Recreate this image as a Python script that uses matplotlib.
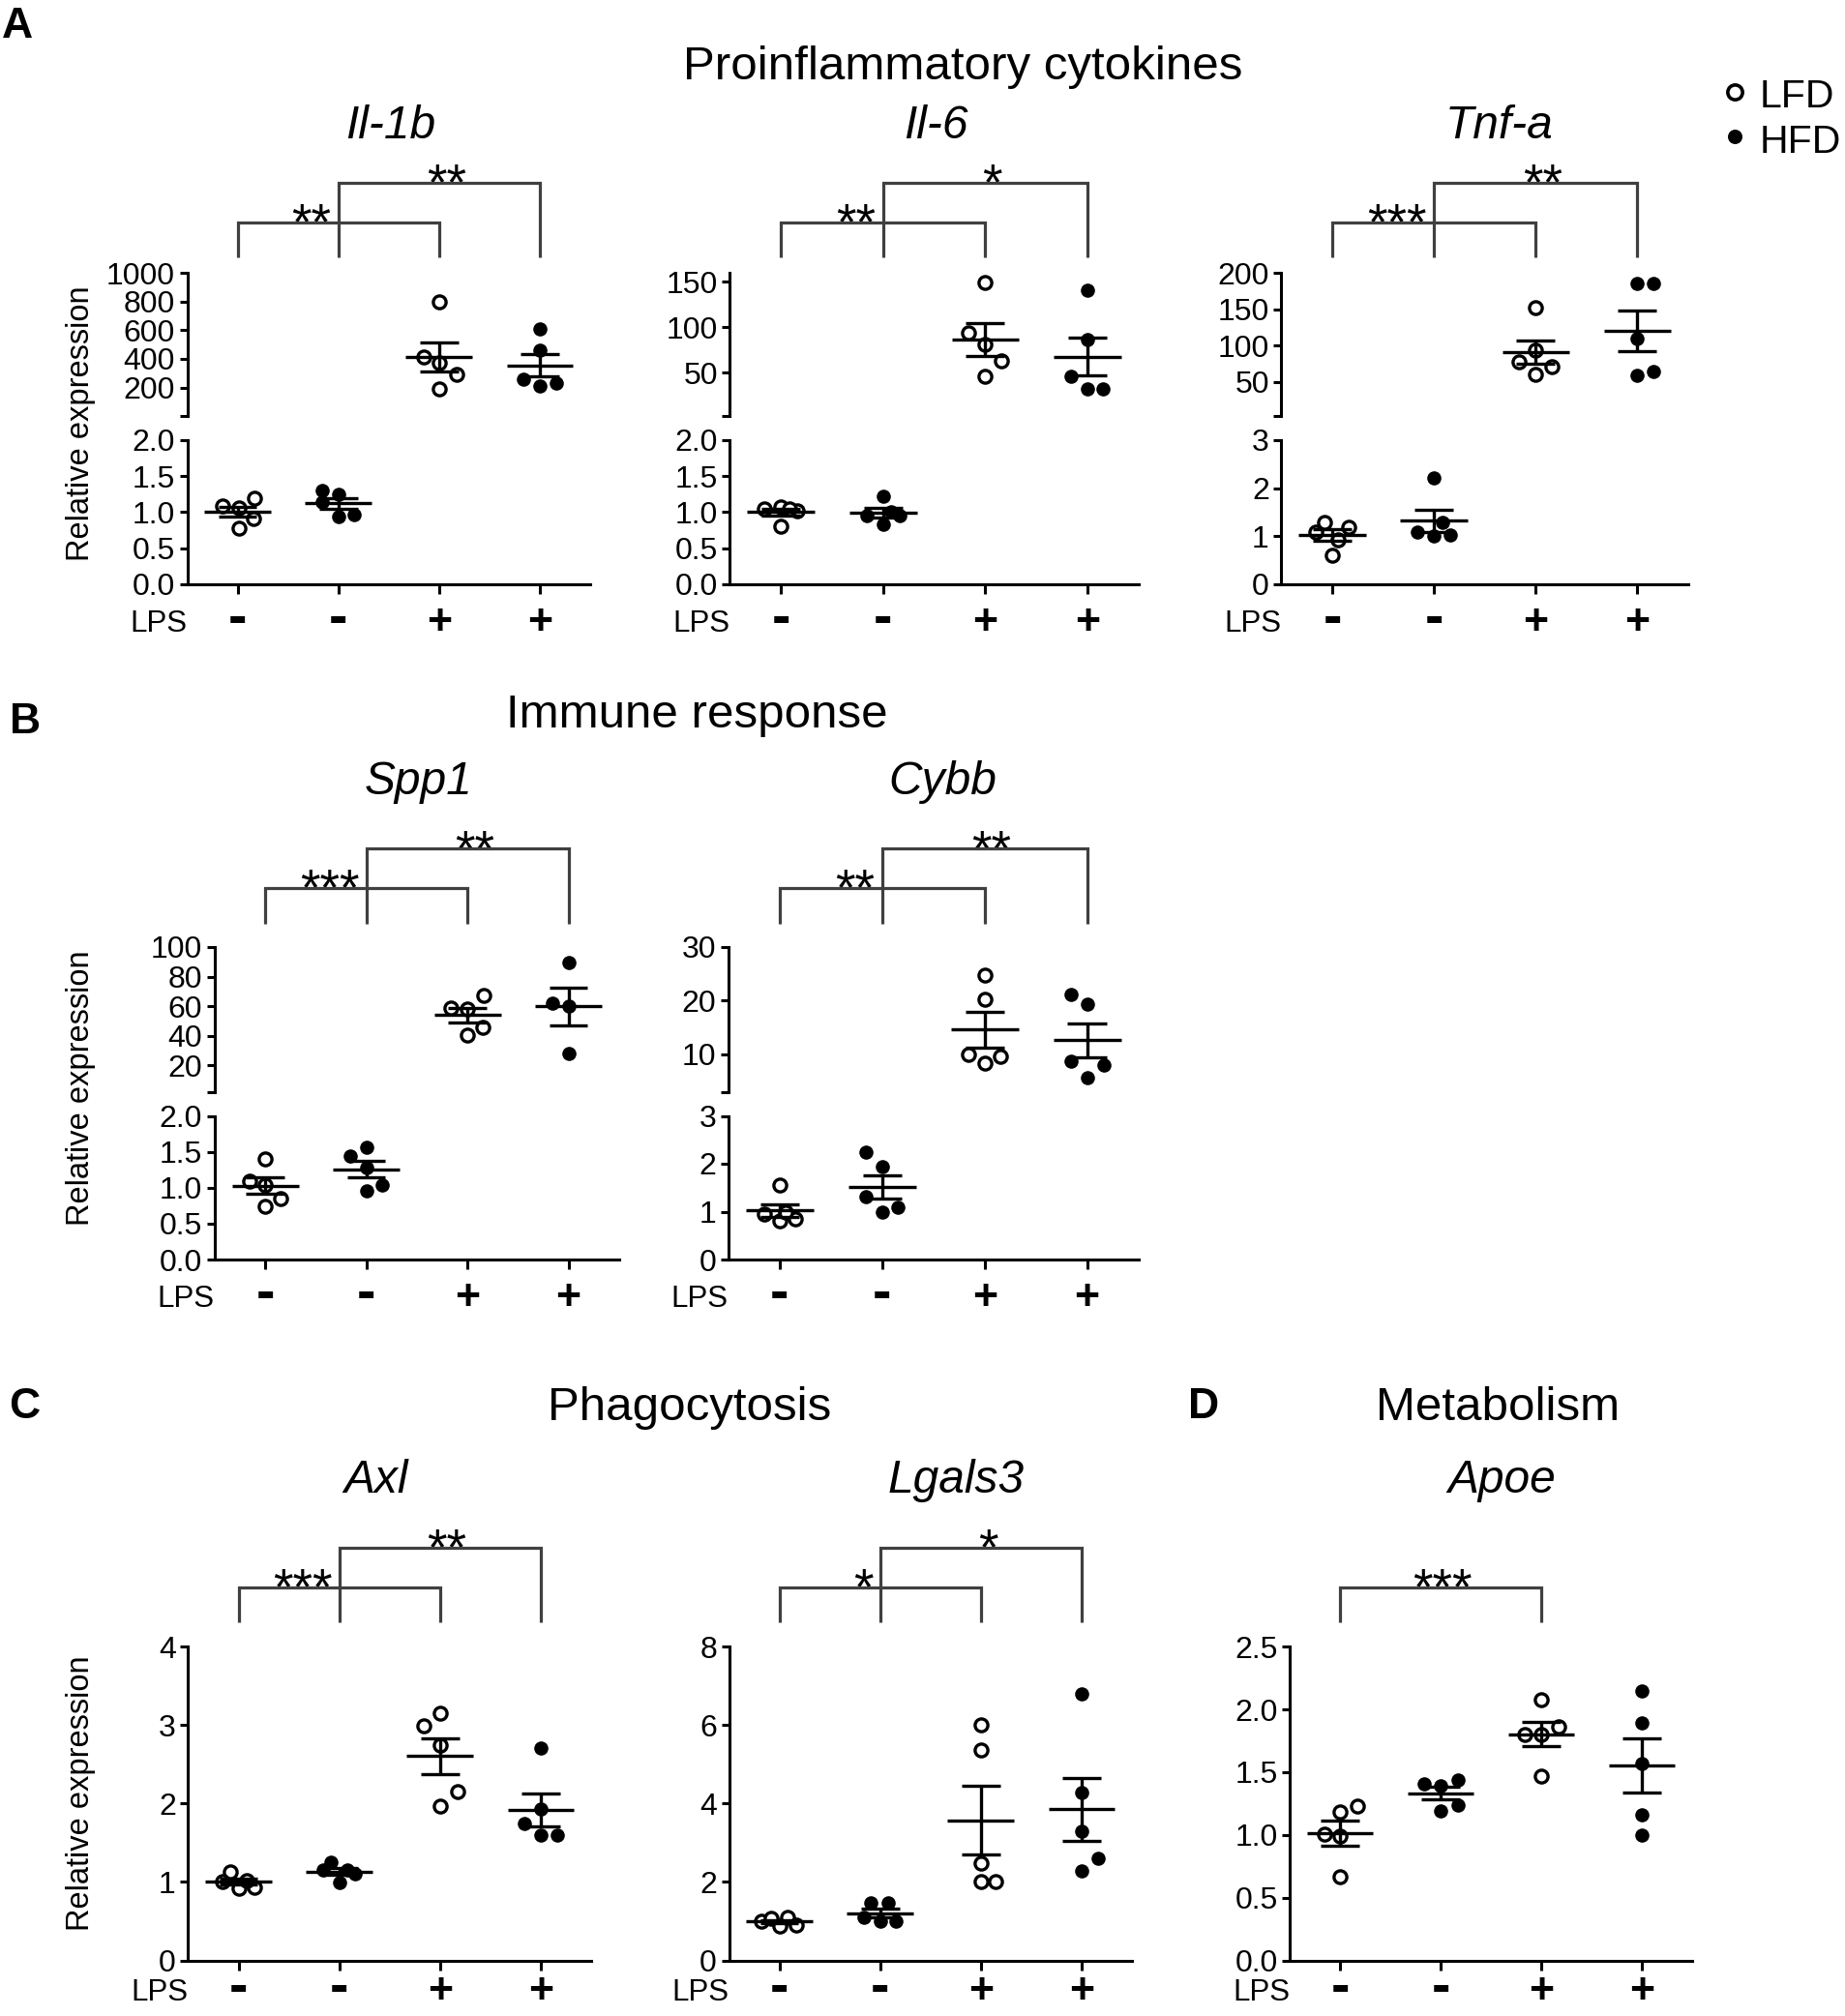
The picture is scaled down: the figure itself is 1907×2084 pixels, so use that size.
import matplotlib
matplotlib.use('Agg')
import matplotlib.pyplot as plt
import numpy as np
from matplotlib.lines import Line2D
from matplotlib import transforms

plt.rcParams['font.family'] = ['Liberation Sans', 'DejaVu Sans']

# ---------------- data ----------------
groups = ['LFD LPS-', 'HFD LPS-', 'LFD LPS+', 'HFD LPS+']
lps_labels = ['-', '-', '+', '+']
diet = ['LFD', 'HFD', 'LFD', 'HFD']

il1b_values = [[1.09, 1.06, 1.19, 0.915, 0.77], [1.30, 1.25, 0.944, 0.968, 1.14],
               [795, 411, 374, 294, 189], [607, 463, 260, 208, 231]]
il1b_jitter = [[-0.15, 0.01, 0.17, 0.16, 0.01], [-0.16, 0, 0, 0.16, -0.16],
               [0, -0.15, 0, 0.17, 0], [0, 0, -0.16, 0, 0.16]]

il6_values = [[1.05, 1.07, 1.02, 1.05, 0.80], [1.22, 0.955, 0.955, 1.01, 0.83],
              [149, 93.6, 81, 62.7, 45.5], [141, 86.4, 45.5, 32, 32]]
il6_jitter = [[-0.16, 0, 0.16, 0.08, 0], [0, -0.16, 0.16, 0.08, 0],
              [0, -0.16, 0, 0.16, 0], [0, 0, -0.16, 0, 0.15]]

tnfa_values = [[1.28, 1.09, 1.18, 0.93, 0.59], [2.21, 1.08, 1.01, 1.02, 1.28],
               [152.5, 93.6, 78, 70.5, 59.6], [185, 186, 110, 58.5, 64]]
tnfa_jitter = [[-0.08, -0.16, 0.16, 0.06, 0], [0, -0.16, 0, 0.16, 0.08],
               [0, 0, -0.16, 0.16, 0], [0, 0.16, 0, 0, 0.16]]

spp1_values = [[1.407, 1.087, 1.04, 0.855, 0.738], [1.564, 1.436, 1.273, 0.959, 1.04],
               [58.5, 57.9, 66.9, 40.5, 45.3], [89.3, 62.1, 60.1, 27.6]]
spp1_jitter = [[0, -0.15, 0, 0.15, 0], [0, -0.16, 0, 0, 0.16],
               [-0.16, 0, 0.16, 0, 0.15], [0, -0.16, 0, 0]]

cybb_values = [[1.55, 0.94, 0.81, 0.85, 0.98], [2.25, 1.93, 1.316, 0.98, 1.088],
               [24.7, 20.2, 10.0, 8.4, 9.6], [21.2, 19.4, 8.7, 8.0, 5.7]]
cybb_jitter = [[0, -0.15, 0, 0.15, 0.06], [-0.16, 0, -0.16, 0, 0.15],
               [0, 0, -0.16, 0, 0.15], [-0.16, 0, -0.16, 0.16, 0]]

axl_values = [[1.13, 1.01, 0.92, 0.93, 1.02], [1.256, 1.148, 0.997, 1.105, 1.148],
              [3.154, 2.99, 2.75, 2.156, 1.968], [2.71, 1.925, 1.74, 1.60, 1.60]]
axl_jitter = [[-0.08, -0.16, 0, 0.16, 0.08], [-0.08, -0.16, 0, 0.16, 0.08],
              [0, -0.16, 0, 0.17, 0], [0, 0, -0.16, 0, 0.16]]

lgals3_values = [[1.0, 1.07, 0.88, 1.1, 0.9], [1.47, 1.47, 1.1, 0.99, 0.99],
                 [6.01, 5.37, 2.49, 2.01, 2.01], [6.8, 4.27, 3.3, 2.6, 2.28]]
lgals3_jitter = [[-0.18, -0.08, 0, 0.08, 0.17], [-0.09, 0.08, -0.16, 0, 0.16],
                 [0, 0, 0, 0, 0.15], [0, 0, 0, 0.16, 0]]

apoe_values = [[1.01, 0.99, 1.18, 1.23, 0.665], [1.41, 1.44, 1.39, 1.19, 1.24],
               [2.08, 1.80, 1.80, 1.86, 1.47], [2.15, 1.89, 1.57, 1.16, 1.0]]
apoe_jitter = [[-0.16, 0, 0, 0.17, 0], [-0.16, 0.17, 0, 0, 0.17],
               [0, -0.16, 0, 0.17, 0], [0, 0, 0, 0, 0]]

# axis ranges / ticks
il1b_lower_ticks = [0.0, 0.5, 1.0, 1.5, 2.0]
il1b_upper_ticks = [200, 400, 600, 800, 1000]
il6_lower_ticks = [0.0, 0.5, 1.0, 1.5, 2.0]
il6_upper_ticks = [50, 100, 150]
tnfa_lower_ticks = [0, 1, 2, 3]
tnfa_upper_ticks = [50, 100, 150, 200]
spp1_lower_ticks = [0.0, 0.5, 1.0, 1.5, 2.0]
spp1_upper_ticks = [20, 40, 60, 80, 100]
cybb_lower_ticks = [0, 1, 2, 3]
cybb_upper_ticks = [10, 20, 30]
axl_ticks = [0, 1, 2, 3, 4]
lgals3_ticks = [0, 2, 4, 6, 8]
apoe_ticks = [0.0, 0.5, 1.0, 1.5, 2.0, 2.5]

# significance (bracket LFD-/LFD+, bracket HFD-/HFD+)
il1b_stars = ['**', '**']
il6_stars = ['**', '*']
tnfa_stars = ['***', '**']
spp1_stars = ['***', '**']
cybb_stars = ['**', '**']
axl_stars = ['***', '**']
lgals3_stars = ['*', '*']
apoe_stars = ['***']

section_titles = ['Proinflammatory cytokines', 'Immune response', 'Phagocytosis', 'Metabolism']
panel_letters = ['A', 'B', 'C', 'D']
ylabel_text = 'Relative expression'

# ---------------- layout ----------------
W, H = 1908, 2084
fig = plt.figure(figsize=(W / 100, H / 100), dpi=100)


def fx(px):
    return px / W


def fy(px):
    return 1 - px / H


rows = {
    1: dict(upper=(282, 430), lower=(455, 603.7), h1=230, h2=188.5, hb=266, title_base=143,
            sym_c=641.5),
    2: dict(upper=(979, 1128.5), lower=(1153.5, 1302), h1=918, h2=877.3, hb=954.7, title_base=821,
            sym_c=1339.5),
    3: dict(single=(1702.3, 2026.5), h1=1640.6, h2=1599.6, hb=1677, title_base=1543,
            sym_c=2056.5),
}

panels = [
    dict(name='Il-1b', vals=il1b_values, jit=il1b_jitter, row=1, x0=193.6, x1=610, tx=403.6,
         lower=(0, 2), lt=il1b_lower_ticks, lf='{:.1f}', upper=(2, 1000), ut=il1b_upper_ticks,
         stars=il1b_stars, ylabel=438),
    dict(name='Il-6', vals=il6_values, jit=il6_jitter, row=1, x0=754.5, x1=1176.7, tx=967.5,
         lower=(0, 2), lt=il6_lower_ticks, lf='{:.1f}', upper=(2, 160), ut=il6_upper_ticks,
         stars=il6_stars),
    dict(name='Tnf-a', vals=tnfa_values, jit=tnfa_jitter, row=1, x0=1324.5, x1=1745, tx=1550,
         lower=(0, 3), lt=tnfa_lower_ticks, lf='{:.0f}', upper=(3, 200), ut=tnfa_upper_ticks,
         stars=tnfa_stars),
    dict(name='Spp1', vals=spp1_values, jit=spp1_jitter, row=2, x0=221.8, x1=639.8, tx=432.5,
         lower=(0, 2), lt=spp1_lower_ticks, lf='{:.1f}', upper=(2, 100), ut=spp1_upper_ticks,
         stars=spp1_stars, ylabel=1124.5),
    dict(name='Cybb', vals=cybb_values, jit=cybb_jitter, row=2, x0=752.8, x1=1176.6, tx=974.6,
         lower=(0, 3), lt=cybb_lower_ticks, lf='{:.0f}', upper=(3, 30), ut=cybb_upper_ticks,
         stars=cybb_stars),
    dict(name='Axl', vals=axl_values, jit=axl_jitter, row=3, x0=194.5, x1=611, tx=389,
         single=(0, 4), st=axl_ticks, sf='{:.0f}', stars=axl_stars, ylabel=1853.6),
    dict(name='Lgals3', vals=lgals3_values, jit=lgals3_jitter, row=3, x0=753.6, x1=1170, tx=988,
         single=(0, 8), st=lgals3_ticks, sf='{:.0f}', stars=lgals3_stars),
    dict(name='Apoe', vals=apoe_values, jit=apoe_jitter, row=3, x0=1333.2, x1=1748.8, tx=1552,
         single=(0, 2.5), st=apoe_ticks, sf='{:.1f}', stars=apoe_stars),
]

LW = 2.2
TICK_FS = 23
BRACKET_C = '#404040'
MINUS_FS, PLUS_FS = 42, 32
STAR_FS = 38


def em(fs):
    return fs * 100 / 72.0


def make_ax(x0, x1, ytop, ybot):
    ax = fig.add_axes([fx(x0), fy(ybot), fx(x1) - fx(x0), (ybot - ytop) / H])
    ax.patch.set_visible(False)
    ax.set_xlim(0.5, 4.5)
    for s in ['top', 'right']:
        ax.spines[s].set_visible(False)
    for s in ['left', 'bottom']:
        ax.spines[s].set_linewidth(LW)
        ax.spines[s].set_capstyle('projecting')
    return ax


def set_yaxis(ax, ylim, ticks, fmt, bottom_cap=False):
    ax.set_ylim(*ylim)
    yt = list(ticks)
    labels = [fmt.format(t) for t in ticks]
    if bottom_cap:
        yt = [ylim[0]] + yt
        labels = [''] + labels
    ax.set_yticks(yt)
    ax.set_yticklabels(labels)
    ax.tick_params(axis='y', length=5.8, width=LW, pad=3.3, labelsize=TICK_FS, direction='out')


def draw_group(ax, g, vals, jit):
    v = np.asarray(vals, dtype=float)
    j = np.asarray(jit, dtype=float)
    xc = g + 1
    m = v.mean()
    sem = v.std(ddof=1) / np.sqrt(len(v))
    if diet[g] == 'LFD':
        ax.plot(xc + j, v, 'o', ms=9.5, mfc='white', mec='black', mew=2.4, ls='none',
                zorder=4, clip_on=False)
    else:
        ax.plot(xc + j, v, 'o', ms=10.5, mfc='black', mec='black', mew=0, ls='none',
                zorder=4, clip_on=False)
    kw = dict(color='black', lw=2.4, solid_capstyle='butt', zorder=5, clip_on=False)
    ax.plot([xc - 0.33, xc + 0.33], [m, m], **kw)
    ax.plot([xc, xc], [m - sem, m + sem], **kw)
    ax.plot([xc - 0.19, xc + 0.19], [m + sem, m + sem], **kw)
    ax.plot([xc - 0.19, xc + 0.19], [m - sem, m - sem], **kw)


for p in panels:
    r = rows[p['row']]
    if 'single' in p:
        axb = make_ax(p['x0'], p['x1'], *r['single'])
        set_yaxis(axb, p['single'], p['st'], p['sf'])
        axt = axb
        for g in range(4):
            draw_group(axb, g, p['vals'][g], p['jit'][g])
    else:
        axt = make_ax(p['x0'], p['x1'], *r['upper'])
        axb = make_ax(p['x0'], p['x1'], *r['lower'])
        axt.spines['bottom'].set_visible(False)
        axt.set_xticks([])
        set_yaxis(axt, p['upper'], p['ut'], '{:.0f}', bottom_cap=True)
        set_yaxis(axb, p['lower'], p['lt'], p['lf'])
        for g in range(4):
            m = np.mean(p['vals'][g])
            target = axt if m > p['lower'][1] else axb
            draw_group(target, g, p['vals'][g], p['jit'][g])
    axb.set_xticks([1, 2, 3, 4])
    axb.tick_params(axis='x', length=7.2, width=LW, direction='out', labelbottom=False)

    # LPS row
    tb = transforms.blended_transform_factory(axb.transData, fig.transFigure)
    sym_c = r['sym_c']
    for g, s in enumerate(lps_labels):
        if s == '+':
            axb.text(g + 1, fy(sym_c + 0.33 * em(PLUS_FS)), '+', transform=tb, ha='center',
                     va='baseline', fontsize=PLUS_FS, fontweight='bold')
        else:
            axb.text(g + 1, fy(sym_c + 0.245 * em(MINUS_FS)), '-', transform=tb, ha='center',
                     va='baseline', fontsize=MINUS_FS, fontweight='bold')
    axb.text(0.5, fy(sym_c + 11.2), 'LPS', transform=tb, ha='right', va='baseline',
             fontsize=22.5)

    # gene title
    fig.text(fx(p['tx']), fy(r['title_base']), p['name'], ha='center', va='baseline',
             fontsize=34.5, fontstyle='italic')

    # significance brackets
    tt = transforms.blended_transform_factory(axt.transData, fig.transFigure)
    br_kw = dict(color=BRACKET_C, lw=2.3, solid_joinstyle='miter', solid_capstyle='butt')
    fig.add_artist(Line2D([1, 1, 3, 3], [fy(r['hb']), fy(r['h1']), fy(r['h1']), fy(r['hb'])],
                          transform=tt, **br_kw))
    star_off = 0.585 * em(STAR_FS) - 13.5
    if len(p['stars']) > 1:
        fig.add_artist(Line2D([2, 2, 4, 4], [fy(r['hb']), fy(r['h2']), fy(r['h2']), fy(r['hb'])],
                              transform=tt, **br_kw))
        axt.text(2 - 0.07, fy(r['h1'] + star_off), p['stars'][0], transform=tt, ha='right',
                 va='baseline', fontsize=STAR_FS)
        axt.text(3 + 0.07, fy(r['h2'] + star_off), p['stars'][1], transform=tt, ha='center',
                 va='baseline', fontsize=STAR_FS)
    else:
        axt.text(2.02, fy(r['h1'] + star_off), p['stars'][0], transform=tt, ha='center',
                 va='baseline', fontsize=STAR_FS)

    if 'ylabel' in p:
        fig.text(fx(84), fy(p['ylabel']), ylabel_text, rotation=90, ha='center', va='center',
                 fontsize=23.5)

# section titles
SEC_FS = 35.5
fig.text(fx(995.6), fy(82.4), section_titles[0], ha='center', va='baseline', fontsize=SEC_FS)
fig.text(fx(720), fy(751.6), section_titles[1], ha='center', va='baseline', fontsize=SEC_FS)
fig.text(fx(713), fy(1467.6), section_titles[2], ha='center', va='baseline', fontsize=SEC_FS)
fig.text(fx(1548), fy(1468.5), section_titles[3], ha='center', va='baseline', fontsize=SEC_FS)

# panel letters
for letter, (lx, ly) in zip(panel_letters, [(2, 39), (10, 758), (9, 1466), (1228, 1466)]):
    fig.text(fx(lx), fy(ly), letter, ha='left', va='baseline', fontsize=32, fontweight='bold')

# legend
fig.add_artist(Line2D([fx(1793)], [fy(95)], marker='o', ms=11, mfc='white', mec='black',
                      mew=2.6, ls='none', transform=fig.transFigure))
fig.add_artist(Line2D([fx(1793)], [fy(141)], marker='o', ms=10.8, mfc='black', mec='black',
                      mew=0, ls='none', transform=fig.transFigure))
fig.text(fx(1819), fy(110.6), diet[0], ha='left', va='baseline', fontsize=29.5)
fig.text(fx(1819), fy(158), diet[1], ha='left', va='baseline', fontsize=29.5)

fig.savefig('out.png', dpi=100, facecolor='white')
